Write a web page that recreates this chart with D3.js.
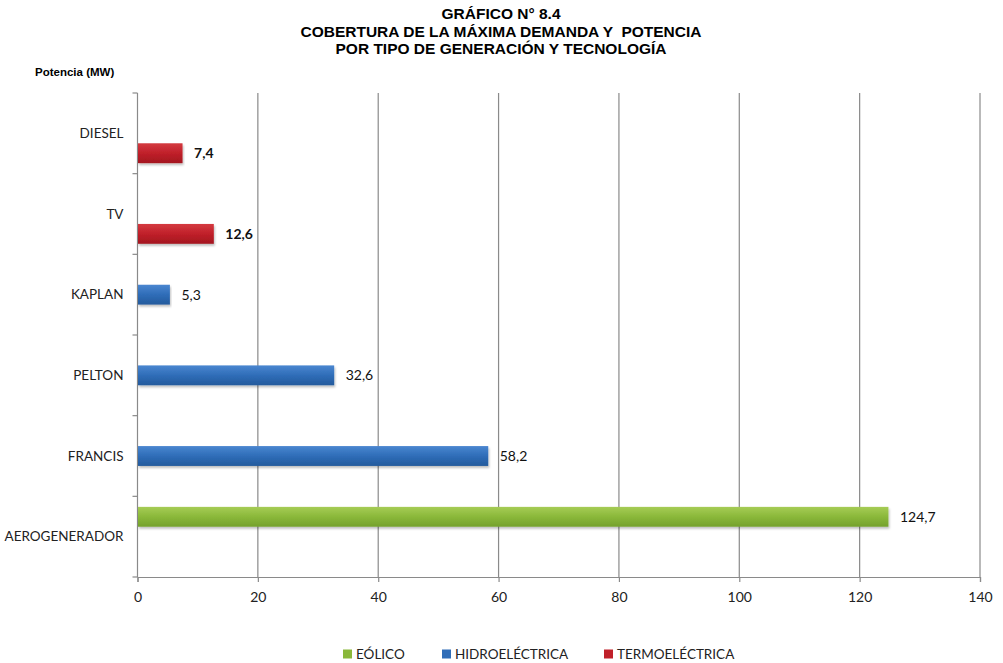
<!DOCTYPE html>
<html>
<head>
<meta charset="utf-8">
<script src="https://cdn.jsdelivr.net/npm/d3@7"></script>
<style>
  html, body { margin: 0; padding: 0; background: #fff; }
  svg { display: block; }
</style>
</head>
<body>
<svg id="chart" width="1003" height="663"></svg>
<script>
// Technologies, top to bottom
const categories = ["DIESEL", "TV", "KAPLAN", "PELTON", "FRANCIS", "AEROGENERADOR"];
// Series (generation type)
const series = ["EÓLICO", "HIDROELÉCTRICA", "TERMOELÉCTRICA"];
// Installed power (MW) per technology, per series (null = no bar)
const eolico         = [null, null, null, null, null, 124.7];
const hidroelectrica = [null, null, 5.3, 32.6, 58.2, null];
const termoelectrica = [7.4, 12.6, null, null, null, null];
const xTicks = [0, 20, 40, 60, 80, 100, 120, 140];
const titleLines = ["GRÁFICO N° 8.4", "COBERTURA DE LA MÁXIMA DEMANDA Y  POTENCIA", "POR TIPO DE GENERACIÓN Y TECNOLOGÍA"];

const values = [eolico, hidroelectrica, termoelectrica];
const colors = {
  "EÓLICO": ["#a6cc55", "#8ab83a", "#74a12c"],
  "HIDROELÉCTRICA": ["#4a86d0", "#2f6db8", "#245a9c"],
  "TERMOELÉCTRICA": ["#d43a40", "#c0202a", "#a3161f"]
};
const boldLabel = { "EÓLICO": false, "HIDROELÉCTRICA": false, "TERMOELÉCTRICA": true };

const svg = d3.select("#chart");
const labelFont = "Lato, 'Open Sans', 'DejaVu Sans', sans-serif";
const titleFont = "'Liberation Sans Narrow', 'Arial Narrow', 'Liberation Sans', Arial, sans-serif";

const margin = { left: 137.5, right: 23, top: 93, bottom: 86 };
const W = 1003, H = 663;

const x = d3.scaleLinear().domain([0, 140]).range([margin.left, W - margin.right]);
const y = d3.scaleBand().domain(categories).range([margin.top, H - margin.bottom]).padding(0);
const inner = d3.scaleBand().domain(series).range([0, y.bandwidth()]).paddingOuter(0.53).paddingInner(0);

// Gradients for bars
const defs = svg.append("defs");
series.forEach((s, i) => {
  const g = defs.append("linearGradient").attr("id", "grad" + i)
    .attr("x1", 0).attr("y1", 0).attr("x2", 0).attr("y2", 1);
  g.append("stop").attr("offset", "0%").attr("stop-color", colors[s][0]);
  g.append("stop").attr("offset", "50%").attr("stop-color", colors[s][1]);
  g.append("stop").attr("offset", "100%").attr("stop-color", colors[s][2]);
});
const shadow = defs.append("filter").attr("id", "shadow")
  .attr("x", "-5%").attr("y", "-30%").attr("width", "110%").attr("height", "180%");
shadow.append("feDropShadow").attr("dx", 1).attr("dy", 2).attr("stdDeviation", 1.2)
  .attr("flood-color", "#000").attr("flood-opacity", 0.25);

// Title
svg.append("g").selectAll("text").data(titleLines).join("text")
  .attr("x", 501).attr("y", (d, i) => 19 + i * 17.5)
  .attr("text-anchor", "middle")
  .style("white-space", "pre")
  .attr("font-family", titleFont).attr("font-weight", "bold").attr("font-size", 15.5)
  .attr("fill", "#000")
  .text(d => d);

svg.append("text").attr("x", 35).attr("y", 76)
  .attr("font-family", titleFont).attr("font-weight", "bold").attr("font-size", 11.5)
  .text("Potencia (MW)");

// Vertical gridlines
svg.append("g").selectAll("line").data(xTicks.slice(1)).join("line")
  .attr("x1", d => x(d)).attr("x2", d => x(d))
  .attr("y1", margin.top).attr("y2", H - margin.bottom)
  .attr("stroke", "#8a8a8a").attr("stroke-width", 1.2);

// X axis
const xAxis = svg.append("g").attr("transform", `translate(0,${H - margin.bottom})`)
  .call(d3.axisBottom(x).tickValues(xTicks).tickSize(5).tickPadding(10).tickFormat(d3.format("d")));
xAxis.select(".domain").attr("stroke", "#8a8a8a").attr("stroke-width", 1.2);
xAxis.selectAll(".tick line").attr("stroke", "#8a8a8a").attr("stroke-width", 1.2);
xAxis.selectAll("text").attr("font-family", labelFont).attr("font-size", 14).attr("fill", "#222");

// Y axis (ticks at band boundaries)
const yAxisG = svg.append("g");
yAxisG.append("line").attr("x1", x(0)).attr("x2", x(0))
  .attr("y1", margin.top).attr("y2", H - margin.bottom)
  .attr("stroke", "#8a8a8a").attr("stroke-width", 1.2);
const bounds = categories.map(c => y(c)).concat([H - margin.bottom]);
yAxisG.selectAll("line.tk").data(bounds).join("line").attr("class", "tk")
  .attr("x1", x(0) - 5).attr("x2", x(0))
  .attr("y1", d => d).attr("y2", d => d)
  .attr("stroke", "#8a8a8a").attr("stroke-width", 1.2);
yAxisG.selectAll("text").data(categories).join("text")
  .attr("x", x(0) - 14).attr("y", d => y(d) + y.bandwidth() / 2)
  .attr("dy", "0.35em").attr("text-anchor", "end")
  .attr("font-family", labelFont).attr("font-size", 13.5).attr("fill", "#222")
  .text(d => d);

// Bars and value labels
const rows = [];
series.forEach((s, si) => {
  categories.forEach((c, ci) => {
    const v = values[si][ci];
    if (v != null) rows.push({ s, si, c, v });
  });
});
const fmt = v => d3.format(".1f")(v).replace(".", ",");

svg.append("g").selectAll("rect").data(rows).join("rect")
  .attr("x", x(0) + 0.5)
  .attr("y", d => y(d.c) + inner(d.s))
  .attr("width", d => x(d.v) - x(0))
  .attr("height", inner.bandwidth())
  .attr("fill", d => `url(#grad${d.si})`)
  .attr("filter", "url(#shadow)");

svg.append("g").selectAll("text").data(rows).join("text")
  .attr("x", d => x(d.v) + 12)
  .attr("y", d => y(d.c) + inner(d.s) + inner.bandwidth() / 2)
  .attr("dy", "0.35em")
  .attr("font-family", labelFont).attr("font-size", 14)
  .attr("font-weight", d => boldLabel[d.s] ? "bold" : "normal")
  .attr("fill", "#111")
  .text(d => fmt(d.v));

// Legend
const legendX = [343, 442, 604];
const lg = svg.append("g").selectAll("g").data(series).join("g")
  .attr("transform", (d, i) => `translate(${legendX[i]},654)`);
lg.append("rect").attr("x", 0).attr("y", -4.5).attr("width", 9).attr("height", 9)
  .attr("fill", d => colors[d][1]);
lg.append("text").attr("x", 13).attr("y", 0).attr("dy", "0.35em")
  .attr("font-family", labelFont).attr("font-size", 13.5).attr("fill", "#222")
  .text(d => d);
</script>
</body>
</html>
